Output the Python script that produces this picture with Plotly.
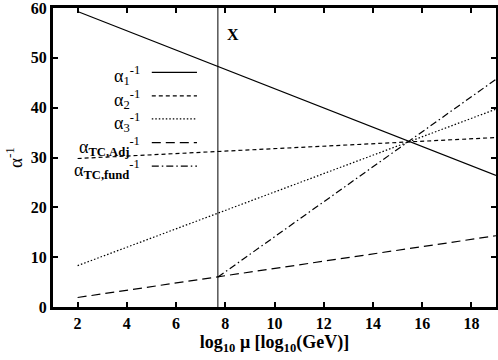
import plotly.graph_objects as go

# log10(mu) endpoints and inverse couplings
x_full = [2, 19]
alpha1_inv = [59.3, 26.4]
alpha2_inv = [29.8, 34.0]
alpha3_inv = [8.3, 39.7]
alpha_tc_adj_inv = [1.9, 14.3]
x_fund = [7.7, 19]
alpha_tc_fund_inv = [6.0, 45.7]
x_mark = 7.7

names = ["α<sub>1</sub><sup>-1</sup>", "α<sub>2</sub><sup>-1</sup>", "α<sub>3</sub><sup>-1</sup>",
         "α<sub><b>TC,Adj</b></sub><sup>-1</sup>", "α<sub><b>TC,fund</b></sub><sup>-1</sup>"]
dashes = ["solid", "4px,3px", "1.5px,2px", "9px,5px", "7px,3px,1.5px,3px"]
series = [(x_full, alpha1_inv), (x_full, alpha2_inv), (x_full, alpha3_inv),
          (x_full, alpha_tc_adj_inv), (x_fund, alpha_tc_fund_inv)]

serif = "Liberation Serif"

fig = go.Figure()
for (xs, ys), d in zip(series, dashes):
    fig.add_trace(go.Scatter(x=xs, y=ys, mode="lines",
                             line=dict(color="black", width=1.2, dash=d),
                             showlegend=False))

# vertical marker line
fig.add_trace(go.Scatter(x=[x_mark, x_mark], y=[0, 60], mode="lines",
                         line=dict(color="black", width=1), showlegend=False))

# hand-drawn key: text on the left, sample on the right
key_y = [0.785, 0.706, 0.629, 0.55, 0.471]
for name, d, ky in zip(names, dashes, key_y):
    fig.add_shape(type="line", xref="paper", yref="paper",
                  x0=0.223, x1=0.325, y0=ky, y1=ky,
                  line=dict(color="black", width=1.2, dash=d))
    fig.add_annotation(xref="paper", yref="paper", x=0.2, y=ky - 0.012,
                       xanchor="right", yanchor="middle", showarrow=False,
                       text=name, font=dict(family=serif, size=18, color="black"))

fig.add_annotation(x=8.3, y=54.6, text="<b>X</b>", showarrow=False,
                   font=dict(family=serif, size=16, color="black"))

fig.update_layout(
    width=498, height=360,
    margin=dict(l=53, r=2, t=8, b=53),
    plot_bgcolor="white", paper_bgcolor="white",
    xaxis=dict(range=[1, 19], tickvals=[2, 4, 6, 8, 10, 12, 14, 16, 18],
               ticks="inside", ticklen=5, tickwidth=2, tickcolor="black",
               showline=True, linewidth=3, linecolor="black", mirror="allticks",
               showgrid=False, zeroline=False, automargin=False,
               ticklabeloverflow="allow",
               tickfont=dict(family=serif, size=16, color="black", weight="bold"),
               title=dict(text="<b>log<sub>10</sub> μ [log<sub>10</sub>(GeV)]</b>",
                          font=dict(family=serif, size=18, color="black"), standoff=3)),
    yaxis=dict(range=[0, 60], tickvals=[0, 10, 20, 30, 40, 50, 60],
               ticks="inside", ticklen=5, tickwidth=2, tickcolor="black",
               showline=True, linewidth=3, linecolor="black", mirror="allticks",
               showgrid=False, zeroline=False, automargin=False,
               ticklabeloverflow="allow",
               tickfont=dict(family=serif, size=16, color="black", weight="bold"),
               title=dict(text="α<sup>-1</sup>",
                          font=dict(family=serif, size=19, color="black"), standoff=4)),
)

fig.write_html("out.html", config={"displayModeBar": False},
               post_script="document.body.style.margin='0';")
